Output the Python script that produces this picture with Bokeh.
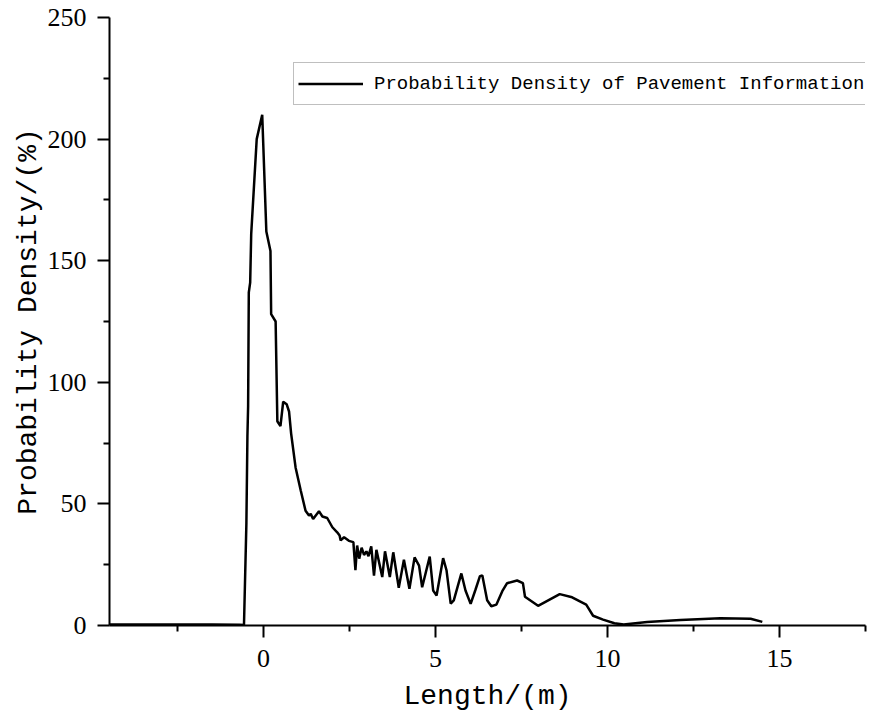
from bokeh.plotting import figure
from bokeh.models import Range1d, FixedTicker, Legend, LegendItem, ColumnDataSource
from bokeh.embed import file_html
from bokeh.resources import INLINE

# ---- data ----
length_m = [-4.48, -3.0, -1.5, -0.7, -0.57, -0.5, -0.47, -0.45, -0.43, -0.39, -0.36,
            -0.2, -0.04, 0.08, 0.2, 0.22, 0.35, 0.4, 0.49, 0.57, 0.67, 0.74, 0.8,
            0.93, 1.08, 1.22, 1.32, 1.37, 1.44, 1.61, 1.71, 1.85, 2.0, 2.14, 2.21,
            2.24, 2.34, 2.48, 2.61, 2.67, 2.72, 2.78, 2.85, 2.92, 2.99, 3.05, 3.13,
            3.21, 3.28, 3.45, 3.53, 3.67, 3.77, 3.93, 4.08, 4.24, 4.39, 4.52, 4.61,
            4.83, 4.93, 5.03, 5.22, 5.32, 5.44, 5.53, 5.75, 5.87, 6.02, 6.16, 6.29,
            6.36, 6.5, 6.62, 6.77, 6.94, 7.08, 7.37, 7.54, 7.6, 7.98, 8.61, 8.97,
            9.38, 9.58, 9.87, 10.2, 10.47, 11.15, 12.12, 13.28, 14.16, 14.5]
density = [0.4, 0.4, 0.4, 0.3, 0.2, 42, 78, 90, 137, 141, 161,
           200, 210, 162, 154, 128, 125, 84, 82, 92, 91, 88, 79,
           65, 55.5, 47.2, 45.2, 45.9, 43.8, 47, 44.8, 44.2, 40.4, 38.3, 37,
           35, 36.3, 34.8, 34.3, 22.8, 32.9, 27.5, 32, 29, 30.5, 28.5, 32.5,
           20.5, 31.1, 19.9, 30.5, 19.9, 30.1, 15.5, 27, 15.1, 28, 24.6, 15.7,
           28.3, 14.4, 12.3, 27.7, 22.6, 9, 10.3, 21.4, 14.4, 8.9, 14.7, 20.3,
           20.6, 10.4, 7.9, 8.6, 14.1, 17.4, 18.5, 17.4, 11.8, 8.1, 12.9, 11.6,
           8.6, 4.0, 2.4, 0.9, 0.4, 1.4, 2.3, 3.0, 2.8, 1.5]

x_major = [0, 5, 10, 15]
x_minor = [-2.5, 2.5, 7.5, 12.5, 17.5]
y_major = [0, 50, 100, 150, 200, 250]
y_minor = [25, 75, 125, 175, 225]
series_name = "Probability Density of Pavement Information"

src = ColumnDataSource(dict(x=length_m, y=density))

p = figure(width=871, height=717, output_backend="svg", toolbar_location=None,
           x_range=Range1d(-4.48, 17.5), y_range=Range1d(0, 250),
           min_border_left=109, min_border_right=6, min_border_top=17,
           min_border_bottom=92)
p.outline_line_color = None
p.xgrid.visible = False
p.ygrid.visible = False
p.background_fill_color = "white"
p.border_fill_color = "white"

r = p.line("x", "y", source=src, line_color="black", line_width=2.5)

p.xaxis.ticker = FixedTicker(ticks=x_major, minor_ticks=x_minor)
p.yaxis.ticker = FixedTicker(ticks=y_major, minor_ticks=y_minor)

for ax in (p.xaxis[0], p.yaxis[0]):
    ax.axis_line_color = "black"
    ax.axis_line_width = 2
    ax.major_tick_line_color = "black"
    ax.major_tick_line_width = 2
    ax.major_tick_in = 0
    ax.major_tick_out = 12
    ax.minor_tick_line_color = "black"
    ax.minor_tick_line_width = 2
    ax.minor_tick_in = 0
    ax.minor_tick_out = 6
    ax.major_label_text_font = "Liberation Serif"
    ax.major_label_text_font_size = "26px"
    ax.major_label_text_color = "black"
    ax.axis_label_text_font = "Liberation Mono"
    ax.axis_label_text_font_size = "28px"
    ax.axis_label_text_font_style = "normal"
    ax.axis_label_text_color = "black"

p.xaxis.major_label_standoff = 12
p.yaxis.major_label_standoff = 11
p.xaxis.axis_label = "Length/(m)"
p.yaxis.axis_label = "Probability Density/(%)"
p.xaxis.axis_label_standoff = 11
p.yaxis.axis_label_standoff = 1

legend = Legend(items=[LegendItem(label=series_name, renderers=[r])],
                location=(184, 520), orientation="vertical")
legend.label_text_font = "Liberation Mono"
legend.label_text_font_size = "19px"
legend.label_text_color = "black"
legend.padding = 4
legend.margin = 0
legend.spacing = 0
legend.glyph_width = 65
legend.glyph_height = 33
legend.label_height = 33
legend.label_width = 520
legend.label_standoff = 11
legend.border_line_color = "#808080"
legend.border_line_width = 1.5
legend.background_fill_alpha = 1.0
p.add_layout(legend)

open("out.html", "w").write(file_html(p, INLINE))
